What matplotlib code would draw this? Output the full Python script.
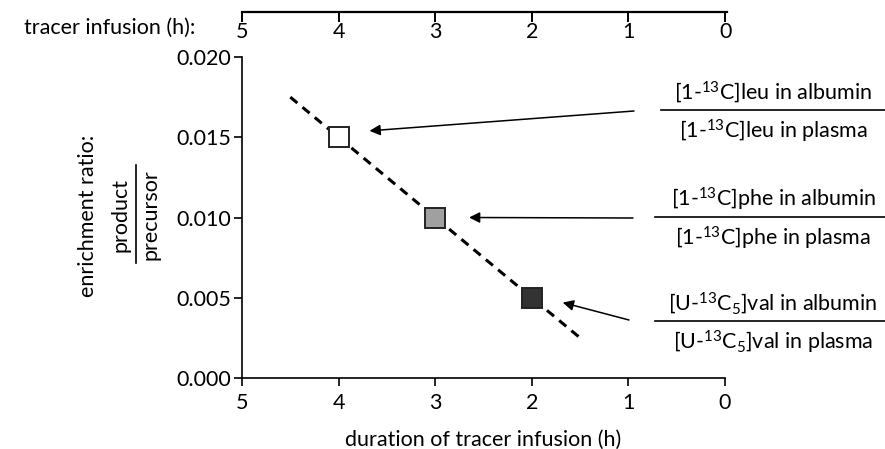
import numpy as np
import matplotlib
matplotlib.use('Agg')
import matplotlib.pyplot as plt

plt.rcParams['font.family'] = ['Lato', 'DejaVu Sans']
plt.rcParams['mathtext.fontset'] = 'custom'
plt.rcParams['mathtext.rm'] = 'Lato'
plt.rcParams['mathtext.it'] = 'Lato:italic'

# data
hours = [4, 3, 2]
ratio = [0.015, 0.010, 0.005]
colors = ['white', '#a0a0a0', '#333333']
fit_x = [4.5, 1.5]
fit_y = [0.0175, 0.0025]
xticks = [5, 4, 3, 2, 1, 0]
yticks = [0.000, 0.005, 0.010, 0.015, 0.020]
numer = [r'[1-$^{\mathregular{13}}$C]leu in albumin',
         r'[1-$^{\mathregular{13}}$C]phe in albumin',
         r'[U-$^{\mathregular{13}}$C$_{\mathregular{5}}$]val in albumin']
denom = [r'[1-$^{\mathregular{13}}$C]leu in plasma',
         r'[1-$^{\mathregular{13}}$C]phe in plasma',
         r'[U-$^{\mathregular{13}}$C$_{\mathregular{5}}$]val in plasma']

W, H = 885, 449
fig = plt.figure(figsize=(W / 100, H / 100), dpi=100)
ax = fig.add_axes([242 / W, 1 - 378 / H, (725 - 242) / W, (378 - 57) / H])

fs = 15.5
ax.plot(fit_x, fit_y, color='black', lw=2.2, ls=(0, (3, 2.2)), zorder=2)
for x, y, c in zip(hours, ratio, colors):
    ax.plot(x, y, marker='s', ms=15, mfc=c, mec='#222222', mew=1.4, zorder=3)

ax.set_xlim(5, 0)
ax.set_ylim(0, 0.020)
ax.set_xticks(xticks)
ax.set_yticks(yticks)
ax.set_yticklabels(['%.3f' % v for v in yticks])
for s in ['top', 'right']:
    ax.spines[s].set_visible(False)
for s in ['left', 'bottom']:
    ax.spines[s].set_linewidth(1.2)
ax.tick_params(direction='out', length=6, width=1.2, labelsize=fs, pad=2)
ax.tick_params(axis='x', pad=5)
ax.set_xlabel('duration of tracer infusion (h)', fontsize=fs, labelpad=12)

# y label with fraction
fig.text(88 / W, 1 - 216 / H, 'enrichment ratio:', rotation=90, fontsize=fs,
         ha='center', va='center')
fig.text(121 / W, 1 - 215 / H, 'product', rotation=90, fontsize=fs,
         ha='center', va='center')
fig.text(151 / W, 1 - 215 / H, 'precursor', rotation=90, fontsize=fs,
         ha='center', va='center')
fig.add_artist(plt.Line2D([136 / W, 136 / W], [1 - 165 / H, 1 - 263 / H],
                          color='black', lw=1.2, transform=fig.transFigure))

# top axis
ax2 = fig.add_axes([242 / W, 1 - 12 / H, (727 - 242) / W, 0.0001])
ax2.set_xlim(5, -0.02)
ax2.set_xticks(xticks)
ax2.set_yticks([])
for s in ['top', 'right', 'left']:
    ax2.spines[s].set_visible(False)
ax2.spines['bottom'].set_linewidth(1.6)
ax2.patch.set_visible(False)
ax2.tick_params(direction='out', length=7, width=1.4, labelsize=fs, pad=0)
fig.text(195 / W, 1 - 28 / H, 'tracer infusion (h):', fontsize=fs,
         ha='right', va='center')

# fraction labels and arrows
line_y = [110, 217, 321]
line_x0 = [661, 655, 655]
tails = [(634, 111), (633, 218), (629, 320)]
tip_dx = [-0.32, -0.35, -0.32]
tip_dy = [0.0004, 0.0, -0.0003]
for i in range(3):
    yy = line_y[i]
    fig.text(773 / W, 1 - (yy - 18) / H, numer[i], fontsize=fs,
             ha='center', va='center')
    fig.text(773 / W, 1 - (yy + 21) / H, denom[i], fontsize=fs,
             ha='center', va='center')
    fig.add_artist(plt.Line2D([line_x0[i] / W, 885 / W], [1 - yy / H, 1 - yy / H],
                              color='black', lw=1.2,
                              transform=fig.transFigure))
    tx, ty = tails[i]
    ax.annotate('', xy=(hours[i] + tip_dx[i], ratio[i] + tip_dy[i]),
                xycoords='data',
                xytext=(tx / W, 1 - ty / H), textcoords='figure fraction',
                arrowprops=dict(arrowstyle='-|>', color='black', lw=1.1,
                                mutation_scale=16, shrinkA=0, shrinkB=0))

fig.savefig('out.png', dpi=100)
